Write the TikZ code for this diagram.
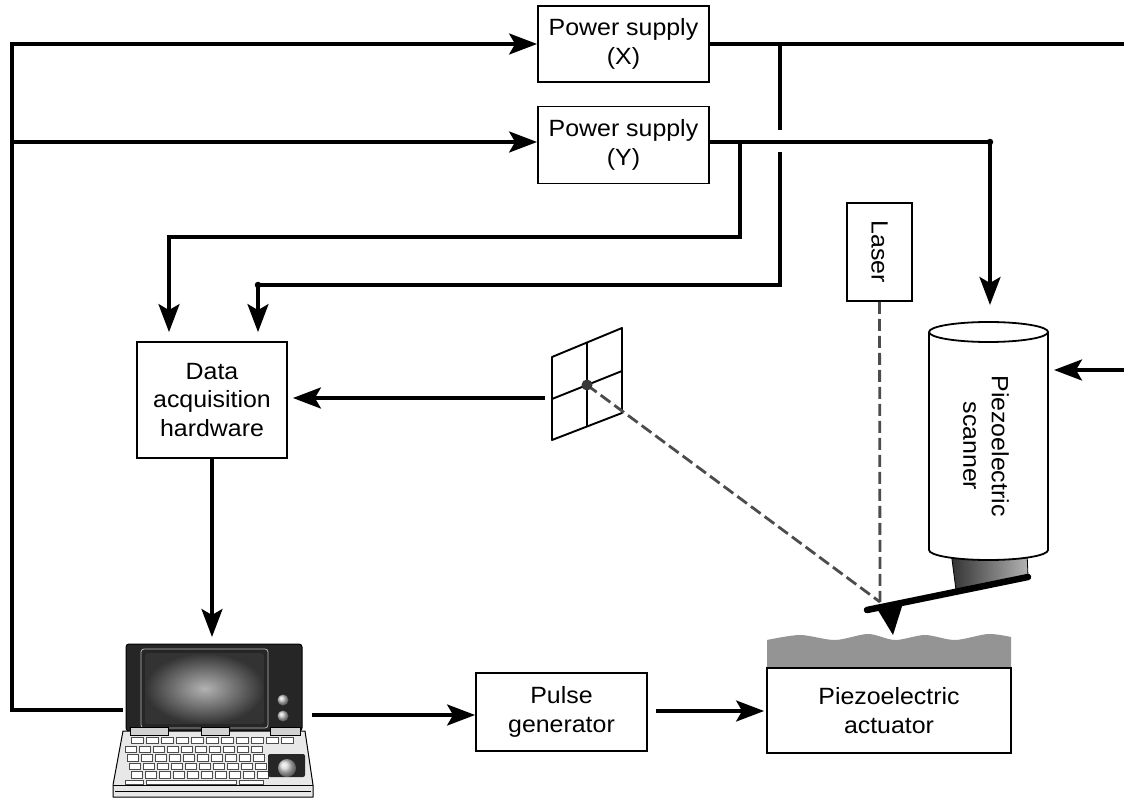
\documentclass[tikz,border=0pt]{standalone}
\usepackage{fontspec}
\setmainfont{Liberation Sans}[FakeStretch=1.06]
\usetikzlibrary{arrows.meta,calc}
\begin{document}
\begin{tikzpicture}[x=1pt,y=-1pt,
  box/.style={draw, line width=1.8pt, align=center, inner sep=0pt, fill=white,
              font=\fontsize{23.5}{28.5}\selectfont},
  lbl/.style={align=center, inner sep=0pt, font=\fontsize{23.5}{28.5}\selectfont},
  wire/.style={line width=3.5pt},
  arr/.style={wire, -{Stealth[length=28pt,width=21pt,inset=6pt]}},
  beam/.style={line width=2.8pt, gray!60!black, dash pattern=on 12pt off 5pt},
  dot/.style={circle, fill, inner sep=0pt, minimum size=6.5pt},
  key/.style={fill=white, draw=gray!60!black, line width=0.5pt},
  tab/.style={fill=gray!35, draw=black, line width=0.6pt}]
\useasboundingbox (0,0) rectangle (1124,799);

% ---- boxes ----
\node[box, minimum width=171pt, minimum height=76pt] (psx) at (623.5,44) {Power supply\\(X)};
\node[box, minimum width=171pt, minimum height=77pt] (psy) at (623.5,145) {Power supply\\(Y)};
\node[box, minimum width=150pt, minimum height=116pt] (daq) at (212,400) {Data\\acquisition\\hardware};
\node[box, minimum width=171pt, minimum height=78pt] (pulse) at (561.5,712) {Pulse\\generator};
\node[box, minimum width=65pt, minimum height=98pt] (laser) at (879.5,252) {};
\node[lbl, rotate=-90] at (laser.center) {Laser};

% ---- left bus from the computer to both power supplies ----
\coordinate (pcL) at (123,710);
\coordinate (busBot) at (12,710);
\coordinate (busTop) at (12,44);
\coordinate (busMid) at (12,142);
\draw[arr, line join=miter] (pcL) -- (busBot) -- (busTop) -- (psx.west);
\draw[arr] (busMid) -- (busMid -| psy.west);

% ---- X supply output (returns along the right edge to the scanner) ----
\coordinate (xR) at (1128,44);
\coordinate (scanR) at (1054,370);
\draw[arr, line join=miter] (psx.east) -- (xR) -- (xR |- scanR) -- (scanR);
\coordinate (xj) at (780,44);
\coordinate (hopTop) at (780,130);
\coordinate (hopBot) at (780,152);
\coordinate (xc) at (780,285);
\coordinate (dB) at (258,285);
\draw[wire] (xj) -- (hopTop);
\draw[arr, line join=miter, shorten >=9pt] (hopBot) -- (xc) -- (dB) -- (dB |- daq.north);
\node[dot] at (dB) {};

% ---- Y supply output ----
\coordinate (yj) at (990,142);
\coordinate (scanT) at (990,305);
\coordinate (yb) at (740,142);
\coordinate (yc) at (740,237);
\coordinate (dA) at (169,237);
\draw[arr, line join=miter] (psy.east |- yj) -- (yj) -- (scanT);
\node[dot] at (yj) {};
\draw[arr, line join=miter, shorten >=9pt] (yb) -- (yc) -- (dA) -- (dA |- daq.north);

% ---- position detector (quadrant grid) ----
\coordinate (g1) at (552,357);
\coordinate (g2) at (622,328);
\coordinate (g3) at (622,413);
\coordinate (g4) at (552,440);
\coordinate (spot) at (587,385);
\draw[line width=1.9pt, line join=round] (g1) -- (g2) -- (g3) -- (g4) -- cycle;
\draw[line width=1.9pt] (552,399) -- (622,371);
\draw[line width=1.9pt] (587,342.5) -- (587,426.5);
\coordinate (detOut) at (545,398);
\draw[arr, shorten >=5pt] (detOut) -- (detOut -| daq.east);

% ---- scanner ----
\shade[left color=black!80, middle color=gray!25, right color=gray!60, draw=black, line width=0.8pt]
  (951,552) -- (956,590) -- (1028,576) -- (1027,552) -- cycle;
\path[fill=white] (929,332) -- (929,550) arc[start angle=180, end angle=0, x radius=59.5, y radius=10] -- (1048,332) -- cycle;
\draw[line width=1.8pt] (929,332) -- (929,550) arc[start angle=180, end angle=0, x radius=59.5, y radius=10] -- (1048,332);
\draw[line width=1.8pt, fill=white] (988.5,332) ellipse[x radius=59.5, y radius=10];
\node[lbl, rotate=-90] at (986,446) {Piezoelectric\\scanner};

% ---- cantilever and tip ----
\coordinate (tipTop) at (880,602);
\draw[line width=6.5pt, line cap=round] (867,610) -- (1028,577);
\fill (876,607) -- (904,600) -- (893,635) -- cycle;

% ---- laser beam ----
\draw[beam] (laser.south) -- (tipTop);
\draw[beam] (spot) -- (tipTop);
\fill[gray!45!black] (spot) circle[radius=5.5];

% ---- sample surface and actuator ----
\fill[black!42] (767,668) -- plot[smooth] coordinates {(767,640) (800,635) (835,640) (868,634) (895,640) (925,635) (955,640) (988,634) (1011,637)} -- (1011,668) -- cycle;
\node[box, minimum width=244pt, minimum height=85pt] (act) at (889,710.5) {Piezoelectric\\actuator};

% ---- computer ----
% lid and screen
\draw[fill=black!85, rounded corners=3pt, line width=1pt] (126,644) rectangle (302,731);
\draw[gray!55, line width=0.8pt, rounded corners=3pt] (141,649) rectangle (268,728);
\shade[inner color=gray!60, outer color=black!80, rounded corners=3pt] (145,653) rectangle (264,724);
\shade[ball color=gray!45] (283,700) circle[radius=5.5];
\shade[ball color=gray!45] (283,716) circle[radius=5.5];
% base
\draw[fill=gray!18, line width=1pt, line join=round] (123,731) -- (305,731) -- (313,785) -- (313,797) -- (113,797) -- (113,785) -- cycle;
\draw[line width=0.8pt] (113,785) -- (313,785);
\draw[line width=0.6pt] (115,791) -- (311,791);
% hinge
\draw[tab] (130,727) rectangle (168,735);
\draw[tab] (201,727) rectangle (229,735);
\draw[tab] (270,727) rectangle (300,735);
% keys
\foreach \i in {0,...,10} \draw[key] ({131+\i*15},737) rectangle +(12,6);
\foreach \r in {0,...,3}
  \foreach \i in {0,...,9}
    \draw[key] ({125+\r*2+\i*14},{746+\r*8.5}) rectangle +(11,6.5);
\draw[key] (125,780) rectangle +(18,4);
\draw[key] (146,780) rectangle +(90,4);
\draw[key] (239,780) rectangle +(24,4);
% trackball
\fill[black!85, rounded corners=2pt] (268,754) rectangle (305,777);
\shade[ball color=gray!35] (287,768) circle[radius=9];
\coordinate (pcTop) at (212,637);
\coordinate (pcR) at (312,715);

% ---- signal arrows ----
\draw[arr] (daq.south) -- (pcTop);
\draw[arr] (pcR) -- (pcR -| pulse.west);
\coordinate (pgOut) at (656,711);
\draw[arr, shorten >=2pt] (pgOut) -- (pgOut -| act.west);
\end{tikzpicture}
\end{document}
